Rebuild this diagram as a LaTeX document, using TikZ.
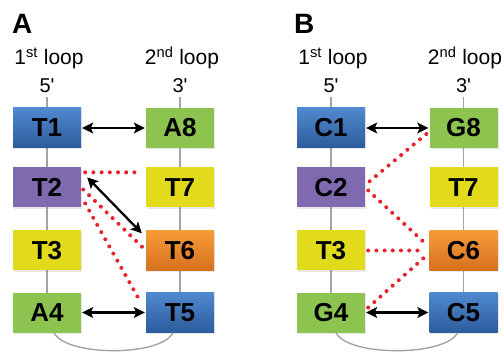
\documentclass[tikz,border=0pt]{standalone}
\usepackage{fontspec}
\setmainfont{Liberation Sans}[Ligatures=TeXOff]
\usetikzlibrary{arrows.meta,calc,shadows}
\definecolor{bluT}{HTML}{5089CF}
\definecolor{bluB}{HTML}{2C5C9C}
\definecolor{purp}{HTML}{7F69AF}
\definecolor{yell}{HTML}{E2DB1C}
\definecolor{gree}{HTML}{8DC450}
\definecolor{oraT}{HTML}{F79C38}
\definecolor{oraB}{HTML}{D6701F}
\definecolor{dotred}{HTML}{E8222A}
\definecolor{strand}{HTML}{A3A3A3}
\tikzset{
  base box/.style={minimum width=68pt, minimum height=40pt, inner sep=0pt,
    font=\fontsize{26}{26}\selectfont\bfseries,
    drop shadow={shadow xshift=1pt, shadow yshift=-1.5pt, opacity=0.18}},
  bluebox/.style={base box, top color=bluT, bottom color=bluB},
  purpbox/.style={base box, fill=purp},
  yellbox/.style={base box, fill=yell},
  greebox/.style={base box, fill=gree},
  orabox/.style={base box, top color=oraT, bottom color=oraB},
  strandline/.style={draw=strand, line width=1.4pt},
  pair/.style={line width=2.3pt, {Stealth[length=11pt,width=11pt,inset=2.5pt]}-{Stealth[length=11pt,width=11pt,inset=2.5pt]}},
  reddots/.style={draw=dotred, line width=4pt, line cap=round, dash pattern=on 0pt off 8.2pt},
  panel/.style={font=\fontsize{28}{28}\selectfont\bfseries, inner sep=0pt, anchor=base west},
  looplab/.style={font=\fontsize{21}{21}\selectfont, inner sep=0pt, anchor=base},
  endlab/.style={font=\fontsize{20}{20}\selectfont, inner sep=0pt, anchor=base}
}
\begin{document}
\begin{tikzpicture}[x=1pt, y=-1pt]
\useasboundingbox (0,0) rectangle (503,355);

% ---------- Panel A ----------
\node[panel] (labA) at (12,34) {A};
\node[looplab] (lA1) at (49,65) {1\textsuperscript{st} loop};
\node[looplab] (lA2) at (182,65) {2\textsuperscript{nd} loop};
\node[endlab] (eA5) at (47,93) {5'};
\node[endlab] (eA3) at (180,93) {3'};
\coordinate (sA1) at (47,97);
\coordinate (sA2) at (180,97);
\coordinate (bA1) at (47,312);
\coordinate (bA2) at (180,312);
\draw[strandline] (sA1) -- (bA1);
\draw[strandline] (sA2) -- (bA2);

\node[bluebox] (T1) at (47,128) {T1};
\node[purpbox] (T2) at (47,187.5) {T2};
\node[yellbox] (T3) at (47,250.5) {T3};
\node[greebox] (A4) at (47,312.5) {A4};
\node[greebox] (A8) at (180,128) {A8};
\node[yellbox] (T7) at (180,187.5) {T7};
\node[orabox] (T6) at (180,250.5) {T6};
\node[bluebox] (T5) at (180,312.5) {T5};

\draw[strandline] ($(A4.south)+(7,0)$) .. controls +(12,24) and +(-12,24) .. ($(T5.south)+(-7,0)$);

\draw[pair] ($(T1.east)+(1,0)$) -- ($(A8.west)+(-1,0)$);
\draw[pair] ($(A4.east)+(1,0)$) -- ($(T5.west)+(-1,0)$);
\draw[pair] ($(T2.north east)+(6,10)$) -- ($(T6.north west)+(-4,3)$);
\draw[reddots] ($(T2.north east)+(4,5)$) -- ($(T7.north west)+(-4,5)$);
\draw[reddots] ($(T2.east)+(2,2)$) -- ($(T6.west)+(-2,-2)$);
\draw[reddots] ($(T2.east)+(4,16)$) -- ($(T5.west)+(-5,-10)$);

% ---------- Panel B ----------
\node[panel] (labB) at (294,34) {B};
\node[looplab] (lB1) at (333,65) {1\textsuperscript{st} loop};
\node[looplab] (lB2) at (465,65) {2\textsuperscript{nd} loop};
\node[endlab] (eB5) at (331,93) {5'};
\node[endlab] (eB3) at (463.5,93) {3'};
\coordinate (sB1) at (331,97);
\coordinate (sB2) at (463.5,97);
\coordinate (bB1) at (331,312);
\coordinate (bB2) at (463.5,312);
\draw[strandline] (sB1) -- (bB1);
\draw[strandline] (sB2) -- (bB2);

\node[bluebox] (C1) at (331,128) {C1};
\node[purpbox] (C2) at (331,187.5) {C2};
\node[yellbox] (T3b) at (331,250.5) {T3};
\node[greebox] (G4) at (331,312.5) {G4};
\node[greebox] (G8) at (463.5,128) {G8};
\node[yellbox] (T7b) at (463.5,187.5) {T7};
\node[orabox] (C6) at (463.5,250.5) {C6};
\node[bluebox] (C5) at (463.5,312.5) {C5};

\draw[strandline] ($(G4.south)+(5,0)$) .. controls +(12,24) and +(-12,24) .. ($(C5.south)+(-6,0)$);

\draw[pair] ($(C1.east)+(1,0)$) -- ($(G8.west)+(-1,0)$);
\draw[pair] ($(G4.east)+(1,0)$) -- ($(C5.west)+(-1,0)$);
\draw[reddots] ($(G8.west)+(-3,6)$) -- ($(C2.east)+(3,-5)$);
\draw[reddots] ($(C2.east)+(3,3)$) -- ($(C6.west)+(-4,-7)$);
\draw[reddots] ($(T3b.east)+(3,0)$) -- ($(C6.west)+(-4,0)$);
\draw[reddots] ($(G4.east)+(3,-5)$) -- ($(C6.west)+(-4,6)$);
\end{tikzpicture}
\end{document}
